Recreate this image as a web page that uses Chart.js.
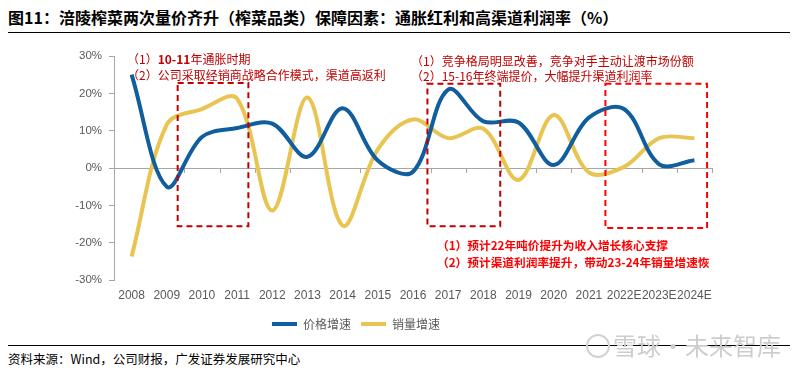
<!DOCTYPE html>
<html>
<head>
<meta charset="utf-8">
<script src="https://cdn.jsdelivr.net/npm/chart.js@4/dist/chart.umd.min.js"></script>
<style>
  body { margin: 0; background: #fff; }
  #wrap { position: relative; width: 800px; height: 375px; overflow: hidden; font-family: "Noto Sans CJK SC", sans-serif; }
  #chart-box { position: absolute; left: 0; top: 0; width: 800px; height: 340px; }
  .title { position: absolute; left: 8px; top: 7px; font-size: 16px; font-weight: bold; color: #000; line-height: 20px; white-space: nowrap; }
  .rule { position: absolute; left: 8px; width: 782px; height: 1px; background: #000; }
  .note { position: absolute; font-size: 12px; line-height: 14px; white-space: nowrap; }
  .note.dark { color: #c00000; }
  .note.bright { color: #ff0000; font-weight: bold; font-size: 11.7px; }
  .source { position: absolute; left: 8px; top: 351px; font-size: 12.5px; line-height: 16px; color: #000; white-space: nowrap; }
  .mark { position: absolute; left: 613px; top: 332px; font-size: 24px; line-height: 26px; color: #cdcdcd; white-space: nowrap; }
  .logo { position: absolute; left: 586px; top: 334px; width: 20px; height: 20px; border: 2px solid #d2d2d2; border-radius: 50%; }
</style>
</head>
<body>
<div id="wrap">
  <div class="title">图11：涪陵榨菜两次量价齐升（榨菜品类）保障因素：通胀红利和高渠道利润率（%）</div>
  <div class="rule" style="top:32px"></div>
  <div id="chart-box"><canvas id="c" width="800" height="340"></canvas></div>
  <div class="note dark" style="left:127px; top:52px">（1）<b>10-11</b>年通胀时期</div>
  <div class="note dark" style="left:127px; top:68px">（2）公司采取经销商战略合作模式，渠道高返利</div>
  <div class="note dark" style="left:411px; top:54px">（1）竞争格局明显改善，竞争对手主动让渡市场份额</div>
  <div class="note dark" style="left:411px; top:69px">（2）15-16年终端提价，大幅提升渠道利润率</div>
  <div class="note bright" style="left:437px; top:238px">（1）预计22年吨价提升为收入增长核心支撑</div>
  <div class="note bright" style="left:437px; top:255px">（2）预计渠道利润率提升，带动23-24年销量增速恢</div>
  <div class="rule" style="top:345px"></div>
  <div class="logo"></div>
  <div class="mark">雪球·未来智库</div>
  <div class="source">资料来源：Wind，公司财报，广发证券发展研究中心</div>
</div>
<script>
// 年份（类目轴）
var years = ['2008', '2009', '2010', '2011', '2012', '2013', '2014', '2015', '2016',
  '2017', '2018', '2019', '2020', '2021', '2022E', '2023E', '2024E'];

// 价格增速 / 销量增速（%）
var priceGrowth = [25, -5, 8.3, 10.7, 11.9, 3, 16, 2, -1, 21, 12.5, 12.2, 0.8, 13.5, 15.8, 1, 2.1];
var volumeGrowth = [-23.7, 11.6, 15.8, 18.6, -11.4, 18.9, -15.4, 5, 13, 8, 10.5, -3.2, 14.2, -1.2, 0.3, 8, 8];

// y 轴刻度
var yTicks = [-30, -20, -10, 0, 10, 20, 30];

// 红色虚线框：[起始类目, 结束类目, 上沿%, 下沿%]
var boxes = [
  { x0: 1.31, x1: 3.32, top: 22.8, bottom: -15.6, color: '#c00000' },
  { x0: 8.41, x1: 10.48, top: 22.6, bottom: -15.6, color: '#c00000' },
  { x0: 13.47, x1: 16.36, top: 22.6, bottom: -16.1, color: '#ff0000' }
];

var axisGray = '#a6a6a6';
var textGray = '#595959';

// 零线上的类目分隔刻度
var zeroTicksPlugin = {
  id: 'zeroTicks',
  beforeDatasetsDraw: function (chart) {
    var xs = chart.scales.x, ys = chart.scales.y, ctx = chart.ctx;
    var y0 = ys.getPixelForValue(0);
    ctx.save();
    ctx.strokeStyle = axisGray;
    ctx.lineWidth = 1;
    ctx.beginPath();
    for (var i = 0; i <= years.length; i++) {
      var x = Math.round(xs.getPixelForValue(i - 0.5)) + 0.5;
      ctx.moveTo(x, y0);
      ctx.lineTo(x, y0 + 5);
    }
    ctx.stroke();
    ctx.restore();
  }
};

// 虚线框
var boxPlugin = {
  id: 'dashBoxes',
  afterDatasetsDraw: function (chart) {
    var xs = chart.scales.x, ys = chart.scales.y, ctx = chart.ctx;
    ctx.save();
    ctx.lineWidth = 2;
    ctx.setLineDash([6, 4]);
    boxes.forEach(function (b) {
      var l = xs.getPixelForValue(b.x0), r = xs.getPixelForValue(b.x1);
      var t = ys.getPixelForValue(b.top), btm = ys.getPixelForValue(b.bottom);
      ctx.strokeStyle = b.color;
      ctx.strokeRect(l, t, r - l, btm - t);
    });
    ctx.restore();
  }
};

new Chart(document.getElementById('c').getContext('2d'), {
  type: 'line',
  data: {
    labels: years,
    datasets: [
      {
        label: '价格增速',
        data: priceGrowth,
        borderColor: '#105e9e',
        backgroundColor: '#105e9e',
        borderWidth: 4,
        pointRadius: 0,
        tension: 0.35
      },
      {
        label: '销量增速',
        data: volumeGrowth,
        borderColor: '#e8c552',
        backgroundColor: '#e8c552',
        borderWidth: 4,
        pointRadius: 0,
        tension: 0.35
      }
    ]
  },
  options: {
    responsive: false,
    animation: false,
    layout: { padding: { left: 0, top: 56, right: 88, bottom: 0 } },
    plugins: {
      legend: {
        position: 'bottom',
        labels: {
          usePointStyle: true,
          pointStyle: 'line',
          pointStyleWidth: 25,
          color: textGray,
          font: { family: '"Noto Sans CJK SC", sans-serif', size: 12 },
          padding: 10
        }
      },
      tooltip: { enabled: false }
    },
    scales: {
      x: {
        offset: true,
        grid: { display: false },
        border: { display: false },
        ticks: {
          color: textGray,
          autoSkip: false,
          maxRotation: 0,
          padding: 0,
          font: { family: '"Liberation Sans", Arial, sans-serif', size: 12 }
        },
        afterFit: function (scale) { scale.height = 28; }
      },
      y: {
        min: -30,
        max: 30,
        afterBuildTicks: function (scale) {
          scale.ticks = yTicks.map(function (v) { return { value: v }; });
        },
        grid: {
          drawOnChartArea: true,
          color: function (ctx) { return ctx.tick && ctx.tick.value === 0 ? axisGray : 'rgba(0,0,0,0)'; },
          tickColor: axisGray,
          tickLength: 5
        },
        border: { display: true, color: axisGray },
        ticks: {
          color: textGray,
          padding: 7,
          font: { family: '"Liberation Sans", Arial, sans-serif', size: 11.5 },
          callback: function (v) { return v + '%'; }
        },
        afterFit: function (scale) { scale.width = 114; }
      }
    }
  },
  plugins: [zeroTicksPlugin, boxPlugin]
});
</script>
</body>
</html>
